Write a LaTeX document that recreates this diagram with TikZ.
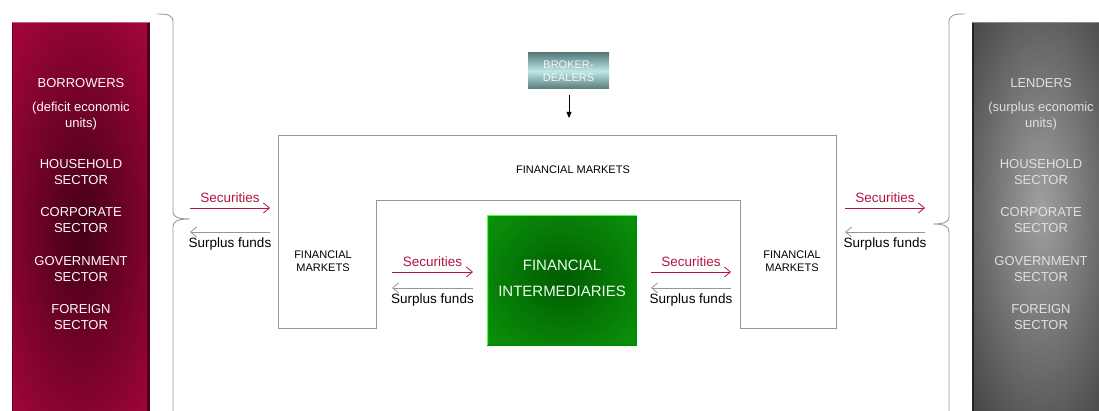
\documentclass[tikz,border=0pt]{standalone}
\usepackage{fontspec}
\setmainfont{Liberation Sans}
\usepackage{xcolor}
\usetikzlibrary{arrows.meta,positioning,calc}

\definecolor{borrowred}{RGB}{160,5,58}
\definecolor{borrowdark}{RGB}{68,0,22}
\definecolor{borrowedge}{RGB}{80,0,28}
\definecolor{lendgray}{RGB}{60,60,60}
\definecolor{lendlight}{RGB}{160,160,160}
\definecolor{lendedge}{RGB}{35,35,35}
\definecolor{intergreen}{RGB}{14,162,14}
\definecolor{interdark}{RGB}{0,92,0}
\definecolor{brokerdark}{RGB}{88,122,122}
\definecolor{brokerlight}{RGB}{190,232,232}
\definecolor{secred}{RGB}{178,22,62}
\definecolor{marketgray}{RGB}{150,150,150}

\tikzset{
  sectortext/.style={text=white!90!pink, align=center, font=\fontsize{13}{16}\selectfont},
  lendtext/.style={text=white!88!black, align=center, font=\fontsize{13}{16}\selectfont},
  marketlabel/.style={align=center, font=\fontsize{11}{13}\selectfont},
  seclabel/.style={text=secred, font=\fontsize{13.5}{15}\selectfont},
  fundlabel/.style={text=black, font=\fontsize{13.5}{15}\selectfont},
  secarrow/.style={secred, line width=0.8pt, -{Straight Barb[length=6pt,width=10pt]}},
  fundarrow/.style={marketgray, line width=0.8pt, -{Straight Barb[length=6pt,width=10pt]}},
  bracket/.style={gray!80, line width=0.9pt},
}

\begin{document}
\begin{tikzpicture}[x=1pt,y=-1pt]
    \useasboundingbox (0,0) rectangle (1099,411);

    % Borrowers
    \fill[borrowred] (12,22) rectangle (150,414);
    \begin{scope}
        \clip (13,24) rectangle (147,412);
        \shade[inner color=borrowdark, outer color=borrowred] (81,228) ellipse (100 and 250);
    \end{scope}
    \draw[borrowedge, line width=3pt] (148.5,22) -- (148.5,414);
    \draw[borrowedge!60!borrowred, line width=1.2pt] (12.6,22) -- (12.6,414);
    \draw[borrowred!65!white, line width=1pt] (12,22.5) -- (150,22.5);
    \node[sectortext] (borrowers) at (81,83) {BORROWERS};
    \node[sectortext] (deficit) at (81,116) {(deficit economic\\units)};
    \foreach \y/\sector/\nm in {172/HOUSEHOLD/bhouse, 220/CORPORATE/bcorp, 269/GOVERNMENT/bgov, 317/FOREIGN/bforeign}
        \node[sectortext] (\nm) at (81,\y) {\sector\\SECTOR};

    % Lenders
    \fill[lendgray] (972,22) rectangle (1105,414);
    \begin{scope}
        \clip (974,24) rectangle (1105,412);
        \shade[inner color=lendlight, outer color=lendgray] (1041,210) ellipse (110 and 300);
    \end{scope}
    \draw[lendedge, line width=2pt] (973,22) -- (973,414);
    \draw[lendgray!60!white, line width=1pt] (972,22.5) -- (1105,22.5);
    \node[lendtext] (lenders) at (1041,83) {LENDERS};
    \node[lendtext] (surplus) at (1041,116) {(surplus economic\\units)};
    \foreach \y/\sector/\nm in {172/HOUSEHOLD/lhouse, 220/CORPORATE/lcorp, 269/GOVERNMENT/lgov, 317/FOREIGN/lforeign}
        \node[lendtext] (\nm) at (1041,\y) {\sector\\SECTOR};

    % Braces
    \draw[bracket] (157,14) .. controls (168,14) and (173,15) .. (173,22) -- (173,212)
        .. controls (173,217) and (178,219) .. (190,219)
        .. controls (178,219) and (173,221) .. (173,227) -- (173,420);
    \draw[bracket] (965,14) .. controls (954,14) and (949,15) .. (949,22) -- (949,217)
        .. controls (949,222) and (944,224) .. (933,224)
        .. controls (944,224) and (949,226) .. (949,232) -- (949,420);

    % Financial markets
    \draw[marketgray, line width=0.9pt] (278,328) -- (278,135) -- (836,135) -- (836,328)
        -- (740,328) -- (740,200) -- (376,200) -- (376,328) -- cycle;
    \node[marketlabel] (fmtop) at (573,170) {FINANCIAL MARKETS};
    \node[marketlabel] (fmleft) at (323,261) {FINANCIAL\\MARKETS};
    \node[marketlabel] (fmright) at (792,261) {FINANCIAL\\MARKETS};

    % Financial intermediaries
    \fill[intergreen] (487,215) rectangle (637,345);
    \begin{scope}
        \clip (489,217) rectangle (635,343);
        \shade[inner color=interdark, outer color=intergreen] (562,280) ellipse (130 and 120);
    \end{scope}
    \draw[green!55!black, line width=1.5pt] (636,215) -- (636,345) -- (487,345);
    \draw[green!70!white, line width=0.8pt] (487,345) -- (487,215) -- (637,215);
    \node[align=center, text=white!92!green, font=\fontsize{15}{26}\selectfont] (inter) at (562,278) {FINANCIAL\\INTERMEDIARIES};

    % Broker-dealers
    \shade[top color=brokerdark, bottom color=brokerdark, middle color=brokerlight] (528,53) rectangle (609,89);
    \node[align=center, text=white!93!gray, font=\fontsize{11}{13}\selectfont] (broker) at (568.5,71) {BROKER-\\DEALERS};
    \coordinate (brokerin) at (569,118);
    \draw[black, line width=0.8pt, -{Triangle[length=6pt,width=5pt]}] (569,95) -- (brokerin);

    % Securities and surplus funds
    \coordinate (bsecA) at (190,208); \coordinate (bsecB) at (270,208);
    \coordinate (bfundA) at (270,232); \coordinate (bfundB) at (190,232);
    \coordinate (isecA) at (392,272); \coordinate (isecB) at (473,272);
    \coordinate (ifundA) at (473,288); \coordinate (ifundB) at (392,288);
    \coordinate (osecA) at (651,272); \coordinate (osecB) at (731,272);
    \coordinate (ofundA) at (731,288); \coordinate (ofundB) at (651,288);
    \coordinate (lsecA) at (845,208); \coordinate (lsecB) at (925,208);
    \coordinate (lfundA) at (925,232); \coordinate (lfundB) at (845,232);
    \foreach \a/\b in {bsec/bfund, isec/ifund, osec/ofund, lsec/lfund} {
        \draw[secarrow] (\a A) -- (\a B) node[midway, above=2pt, seclabel] {Securities};
        \draw[fundarrow] (\b A) -- (\b B) node[midway, below=2pt, fundlabel] {Surplus funds};
    }
\end{tikzpicture}
\end{document}
